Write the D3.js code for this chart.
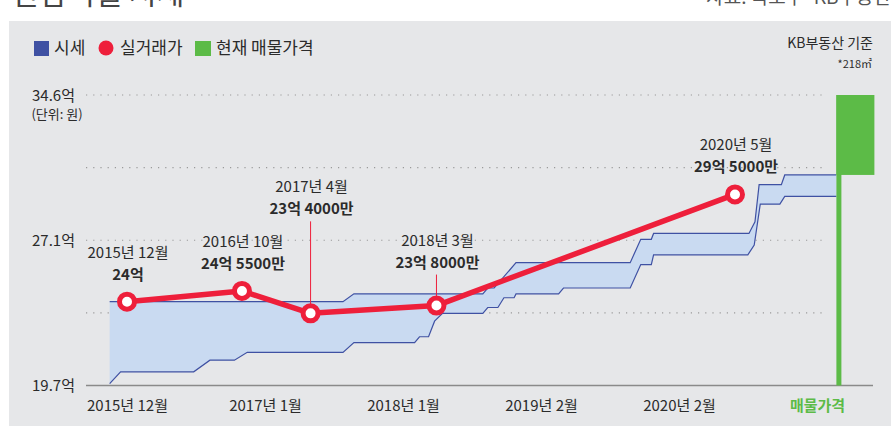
<!DOCTYPE html>
<html>
<head>
<meta charset="utf-8">
<script src="https://cdn.jsdelivr.net/npm/d3@7"></script>
<style>
  html, body { margin: 0; padding: 0; background: #ffffff; }
  svg { display: block; }
  text { font-family: "Liberation Sans Narrow", "Noto Sans CJK KR", sans-serif; }
</style>
</head>
<body>
<svg id="chart" width="891" height="426"></svg>
<script>
// ---------- DATA ----------
const yTickValues = [19.7, 23.425, 27.15, 30.875, 34.6];
const yTickLabels = ["19.7억", "", "27.1억", "", "34.6억"];

const xCategories = ["2015년 12월", "2017년 1월", "2018년 1월", "2019년 2월", "2020년 2월", "매물가격"];

// 시세 (KB) upper bound
const upperDates = ["2015-10-16","2017-06-26","2017-07-25","2018-07-02","2018-07-15","2018-08-01","2018-08-19","2018-09-28","2019-07-28","2019-08-25","2019-09-22","2019-09-28","2020-06-07","2020-06-23","2020-07-04","2020-09-01","2020-09-10","2021-01-25"];
const upperValues = [24.0, 24.0, 24.4, 24.4, 24.7, 24.7, 25.1, 26.0, 26.0, 27.2, 27.2, 27.5, 27.5, 28.1, 30.0, 30.0, 30.5, 30.5];

// 시세 (KB) lower bound
const lowerDates = ["2015-10-16","2015-11-14","2016-05-26","2016-07-08","2016-09-11","2016-10-15","2017-06-26","2017-07-25","2018-01-02","2018-01-15","2018-02-08","2018-02-24","2018-03-17","2018-07-02","2018-07-15","2018-08-11","2018-08-27","2018-09-23","2018-09-28","2019-01-19","2019-02-01","2019-07-28","2019-08-25","2019-09-22","2019-09-28","2020-06-04","2020-06-21","2020-07-07","2020-08-28","2020-09-10","2021-01-25"];
const lowerValues = [19.8, 20.4, 20.4, 21.0, 21.0, 21.4, 21.4, 21.9, 21.9, 22.2, 22.2, 23.0, 23.4, 23.4, 23.7, 23.7, 24.2, 24.2, 24.4, 24.4, 24.7, 24.7, 25.9, 25.9, 26.4, 26.4, 26.9, 29.0, 29.0, 29.4, 29.4];

// 실거래가
const dealDates = ["2015-12-01", "2016-10-01", "2017-04-01", "2018-03-01", "2020-05-01"];
const dealValues = [24.0, 24.55, 23.4, 23.8, 29.5];
const dealDateLabels = ["2015년 12월", "2016년 10월", "2017년 4월", "2018년 3월", "2020년 5월"];
const dealPriceLabels = ["24억", "24억 5500만", "23억 4000만", "23억 8000만", "29억 5000만"];
const dealLabelRaised = [false, false, true, true, false];

// 현재 매물가격
const listingDate = "2021-01-25";
const listingLow = 30.5;
const listingHigh = 34.6;

// ---------- SETUP ----------
const svg = d3.select("#chart");
const W = 891, H = 426;
const parse = d3.timeParse("%Y-%m-%d");

const colors = {
  panel: "#e6e7e9", band: "#c9daf1", bandLine: "#3f51a3",
  red: "#ee1f3b", green: "#5cbb47", text: "#2b2b2b", grid: "#9a9a9a", axis: "#8a8a8a"
};

const y = d3.scaleLinear().domain([19.7, 34.6]).range([385.5, 95]);
const x = d3.scaleTime().domain([parse("2015-12-01"), parse("2020-05-01")]).range([127, 735]);
const xCat = d3.scalePoint().domain(xCategories).range([127, 817]);

const plotLeft = 86, plotRight = 873;

// Header (cut-off title, as in the original)
svg.append("text").attr("x", 12).attr("y", 4).attr("font-size", 30)
  .attr("fill", "#444").text("한남더힐 시세");
svg.append("text").attr("x", 891).attr("y", 4).attr("font-size", 19)
  .attr("text-anchor", "end").attr("fill", "#555").text("자료: 국토부·KB부동산");

// Panel
svg.append("rect").attr("x", 9).attr("y", 21).attr("width", W - 9).attr("height", H - 21)
  .attr("fill", colors.panel);

// Gridlines
svg.append("g").selectAll("line").data(yTickValues.slice(1)).join("line")
  .attr("x1", plotLeft).attr("x2", 827)
  .attr("y1", d => y(d)).attr("y2", d => y(d))
  .attr("stroke", colors.grid).attr("stroke-width", 1.2)
  .attr("stroke-dasharray", "1.2,6");

// Y labels
const yLab = svg.append("g");
yTickValues.forEach((v, i) => {
  if (!yTickLabels[i]) return;
  yLab.append("text").attr("x", 75).attr("y", y(v) + 5.5)
    .attr("text-anchor", "end").attr("font-size", 15).attr("fill", colors.text)
    .text(yTickLabels[i]);
});
yLab.append("text").attr("x", 57).attr("y", y(34.6) + 24)
  .attr("text-anchor", "middle").attr("font-size", 13).attr("fill", colors.text)
  .text("(단위: 원)");

// Band (시세)
const upper = upperDates.map((d, i) => ({ d: parse(d), v: upperValues[i] }));
const lower = lowerDates.map((d, i) => ({ d: parse(d), v: lowerValues[i] }));
const polyPts = upper.map(p => [x(p.d), y(p.v)])
  .concat(lower.slice().reverse().map(p => [x(p.d), y(p.v)]));
svg.append("path").attr("d", "M" + polyPts.map(p => p.join(",")).join("L") + "Z")
  .attr("fill", colors.band);
const bandLine = d3.line().x(p => x(p.d)).y(p => y(p.v));
[upper, lower].forEach(series => {
  svg.append("path").attr("d", bandLine(series))
    .attr("fill", "none").attr("stroke", colors.bandLine).attr("stroke-width", 1.2);
});

// Axis line
svg.append("line").attr("x1", plotLeft).attr("x2", plotRight)
  .attr("y1", y(19.7)).attr("y2", y(19.7))
  .attr("stroke", colors.axis).attr("stroke-width", 1.6);

// X axis labels
const xAxis = d3.axisBottom(xCat).tickSize(0).tickPadding(0);
const gx = svg.append("g").attr("transform", `translate(0,${y(19.7) + 25})`).call(xAxis);
gx.select(".domain").remove();
gx.selectAll("text")
  .attr("font-size", 15).attr("dy", 0)
  .attr("font-family", '"Liberation Sans Narrow", "Noto Sans CJK KR", sans-serif')
  .attr("fill", d => d === "매물가격" ? colors.green : colors.text)
  .attr("font-weight", d => d === "매물가격" ? "bold" : "normal");

// Listing price (green)
const lx = x(parse(listingDate));
svg.append("rect").attr("x", lx).attr("width", 5)
  .attr("y", y(listingHigh)).attr("height", y(19.7) - y(listingHigh))
  .attr("fill", colors.green);
svg.append("rect").attr("x", lx).attr("width", 38)
  .attr("y", y(listingHigh)).attr("height", y(listingLow) - y(listingHigh))
  .attr("fill", colors.green);

// Deals
const deals = dealDates.map((d, i) => ({
  d: parse(d), v: dealValues[i], dl: dealDateLabels[i], pl: dealPriceLabels[i], raised: dealLabelRaised[i]
}));

// Leader lines
deals.filter(p => p.raised).forEach(p => {
  const top = p.v < 23.6 ? y(p.v) - 92 : y(p.v) - 31;
  svg.append("line").attr("x1", x(p.d)).attr("x2", x(p.d))
    .attr("y1", top).attr("y2", y(p.v))
    .attr("stroke", colors.red).attr("stroke-width", 1);
});

svg.append("path").attr("d", d3.line().x(p => x(p.d)).y(p => y(p.v))(deals))
  .attr("fill", "none").attr("stroke", colors.red).attr("stroke-width", 5.5)
  .attr("stroke-linejoin", "round");

svg.append("g").selectAll("circle").data(deals).join("circle")
  .attr("cx", p => x(p.d)).attr("cy", p => y(p.v)).attr("r", 7.5)
  .attr("fill", "#ffffff").attr("stroke", colors.red).attr("stroke-width", 5);

// Deal labels
deals.forEach(p => {
  let offPrice = 22;     // price label baseline above point
  if (p.raised) offPrice = p.v < 23.6 ? 99 : 38;
  const px = x(p.d) + 1;
  const by = y(p.v) - offPrice;
  svg.append("text").attr("x", px).attr("y", by)
    .attr("text-anchor", "middle").attr("font-size", 15).attr("font-weight", "bold")
    .attr("fill", colors.text).text(p.pl);
  svg.append("text").attr("x", px).attr("y", by - 22)
    .attr("text-anchor", "middle").attr("font-size", 15)
    .attr("fill", colors.text).text(p.dl);
});

// Legend
const lg = svg.append("g").attr("fill", colors.text);
lg.append("rect").attr("x", 34).attr("y", 41).attr("width", 15).attr("height", 15).attr("fill", "#3f51a3");
lg.append("text").attr("x", 54).attr("y", 54).attr("font-size", 17).text("시세");
lg.append("circle").attr("cx", 106).attr("cy", 48).attr("r", 7.5).attr("fill", colors.red);
lg.append("text").attr("x", 120).attr("y", 54).attr("font-size", 17).text("실거래가");
lg.append("rect").attr("x", 195).attr("y", 41).attr("width", 16).attr("height", 15).attr("fill", colors.green);
lg.append("text").attr("x", 216).attr("y", 54).attr("font-size", 17).text("현재 매물가격");

// Source note
svg.append("text").attr("x", 873).attr("y", 48).attr("text-anchor", "end")
  .attr("font-size", 14).attr("fill", colors.text).text("KB부동산 기준");
svg.append("text").attr("x", 872).attr("y", 68).attr("text-anchor", "end")
  .attr("font-size", 11).attr("fill", colors.text).text("*218㎡");
</script>
</body>
</html>
